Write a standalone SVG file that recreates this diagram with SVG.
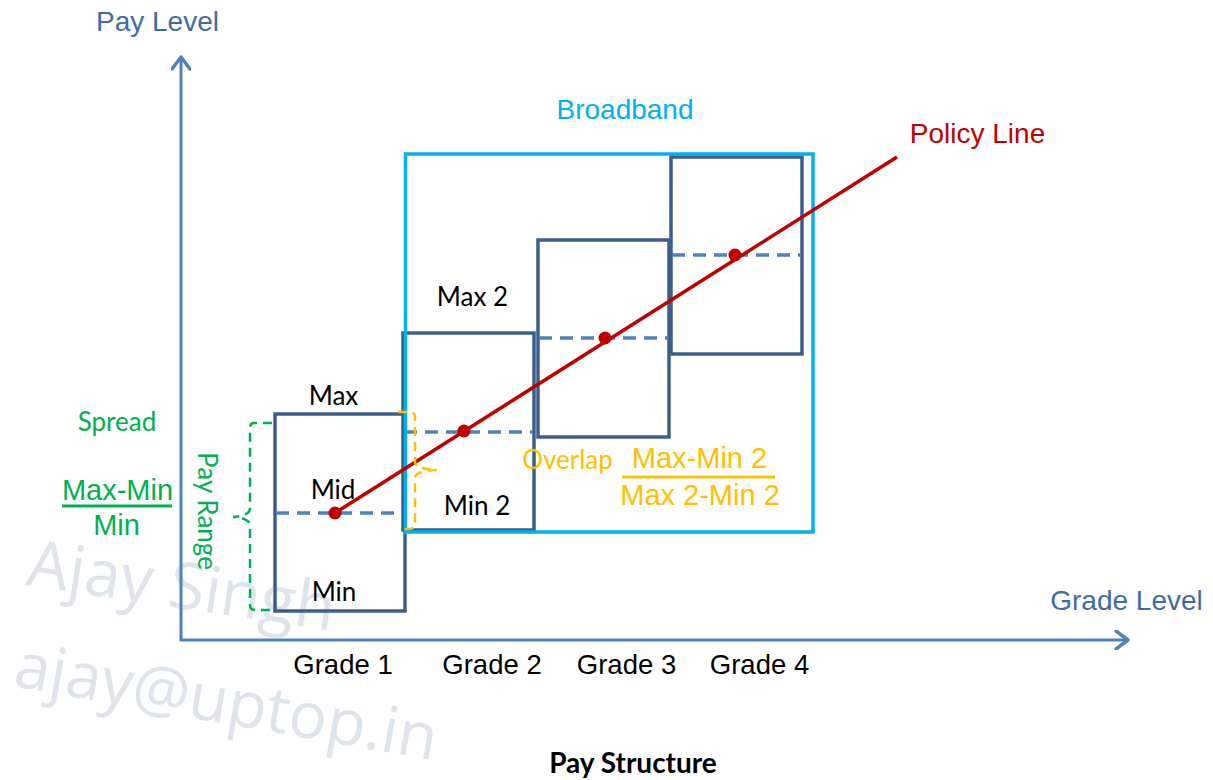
<svg xmlns="http://www.w3.org/2000/svg" width="1213" height="780" viewBox="0 0 1213 780">
<style>
.ax{stroke:#4F81BD;stroke-width:3;fill:none}
.box{stroke:#3B5E8C;stroke-width:3.5;fill:none}
.mid{stroke:#4F81BD;stroke-width:3.5;stroke-dasharray:13 8;fill:none}
.arial{font-family:"Liberation Sans",Arial,sans-serif}
.cal{font-family:Lato,"Liberation Sans",sans-serif}
.blue{fill:#3F6CA6;font-size:28px}
.lbl{fill:#000;font-size:26px}
.grade{fill:#000;font-size:27.5px}
.green{fill:#00B050}
.gold{fill:#FFC000}
.wm{font-family:"Open Sans",sans-serif;fill:#DDE4EC}
</style>
<defs>
<marker id="arr" viewBox="0 0 20 20" refX="16" refY="10" markerWidth="20" markerHeight="20" markerUnits="userSpaceOnUse" orient="auto">
<path d="M4,1 L16,10 L4,19" fill="none" stroke="#4F81BD" stroke-width="3.5" stroke-linecap="round" stroke-linejoin="round"/>
</marker>
</defs>
<rect width="1213" height="780" fill="#fff"/>

<g id="watermark">
<text class="wm" font-size="65" transform="translate(25,585) rotate(8.5)">Ajay Singh</text>
<text class="wm" font-size="64" transform="translate(12,686) rotate(10)">ajay@uptop.in</text>
</g>

<g id="axes">
<line class="ax" x1="181" y1="641" x2="181" y2="57" marker-end="url(#arr)"/>
<line class="ax" x1="180" y1="640" x2="1128" y2="640" marker-end="url(#arr)"/>
<text class="arial blue" x="157.5" y="31" text-anchor="middle">Pay Level</text>
<text class="arial blue" x="1126.5" y="610" text-anchor="middle">Grade Level</text>
</g>

<g id="grade1">
<rect class="box" x="275" y="414" width="130" height="197"/>
<line class="mid" x1="276" y1="513" x2="404" y2="513"/>
<text class="cal lbl" x="333.5" y="405" text-anchor="middle">Max</text>
<text class="cal lbl" x="333" y="499" text-anchor="middle">Mid</text>
<text class="cal lbl" x="334" y="601" text-anchor="middle">Min</text>
<text class="arial grade" x="343" y="674" text-anchor="middle">Grade 1</text>
</g>

<g id="grade2">
<rect class="box" x="403" y="333" width="131" height="197"/>
<line class="mid" x1="404" y1="432" x2="533" y2="432"/>
<text class="cal lbl" x="472.5" y="306" text-anchor="middle">Max 2</text>
<text class="cal lbl" x="477" y="515" text-anchor="middle">Min 2</text>
<text class="arial grade" x="492" y="674" text-anchor="middle">Grade 2</text>
</g>

<g id="grade3">
<rect class="box" x="538" y="240" width="131" height="197"/>
<line class="mid" x1="539" y1="338" x2="668" y2="338"/>
<text class="arial grade" x="626.5" y="674" text-anchor="middle">Grade 3</text>
</g>

<g id="grade4">
<rect class="box" x="671" y="157" width="131" height="197"/>
<line class="mid" x1="672" y1="255" x2="801" y2="255"/>
<text class="arial grade" x="759.5" y="674" text-anchor="middle">Grade 4</text>
</g>

<g id="broadband">
<rect x="405.5" y="154" width="407.5" height="378" fill="none" stroke="#00B0F0" stroke-width="3.5"/>
<text class="arial" x="625" y="119" text-anchor="middle" font-size="28" fill="#00B0F0">Broadband</text>
</g>

<g id="policy-line">
<line x1="335" y1="513" x2="897" y2="157" stroke="#C00000" stroke-width="3.5"/>
<circle cx="335" cy="513" r="6.5" fill="#C00000"/>
<circle cx="464" cy="431" r="6.5" fill="#C00000"/>
<circle cx="605" cy="338" r="6.5" fill="#C00000"/>
<circle cx="735" cy="255" r="6.5" fill="#C00000"/>
<text class="arial" x="977.5" y="143" text-anchor="middle" font-size="28" fill="#C00000">Policy Line</text>
</g>

<g id="spread">
<path d="M272,423 H254 Q250,423 250,428 V508 Q250,516 233,517 Q250,518 250,526 V605 Q250,610 255,610 H272" fill="none" stroke="#00B050" stroke-width="2.5" stroke-dasharray="9 6"/>
<text class="cal green" x="198" y="511" font-size="26" text-anchor="middle" transform="rotate(90 198 511)">Pay Range</text>
<text class="cal green" x="117" y="431" font-size="26" text-anchor="middle">Spread</text>
<text class="arial green" x="117.5" y="500" font-size="29" text-anchor="middle">Max-Min</text>
<line x1="62" y1="506" x2="172" y2="506" stroke="#00B050" stroke-width="3"/>
<text class="arial green" x="116.5" y="535" font-size="29" text-anchor="middle">Min</text>
</g>

<g id="overlap">
<path d="M398,412 H411 Q415,412 415,418 V462 Q415,469 437,470 Q415,471 415,478 V524 Q415,529 409,529 H402" fill="none" stroke="#FFC000" stroke-width="2.5" stroke-dasharray="9 6"/>
<text class="cal gold" x="567.5" y="469" font-size="26" text-anchor="middle">Overlap</text>
<text class="arial gold" x="699.5" y="468" font-size="29" text-anchor="middle">Max-Min 2</text>
<line x1="622" y1="477" x2="775" y2="477" stroke="#FFC000" stroke-width="3"/>
<text class="arial gold" x="700" y="505" font-size="29" text-anchor="middle">Max 2-Min 2</text>
</g>

<g id="title">
<text class="cal" x="633" y="773" font-size="28" font-weight="bold" text-anchor="middle" fill="#000">Pay Structure</text>
</g>
</svg>
